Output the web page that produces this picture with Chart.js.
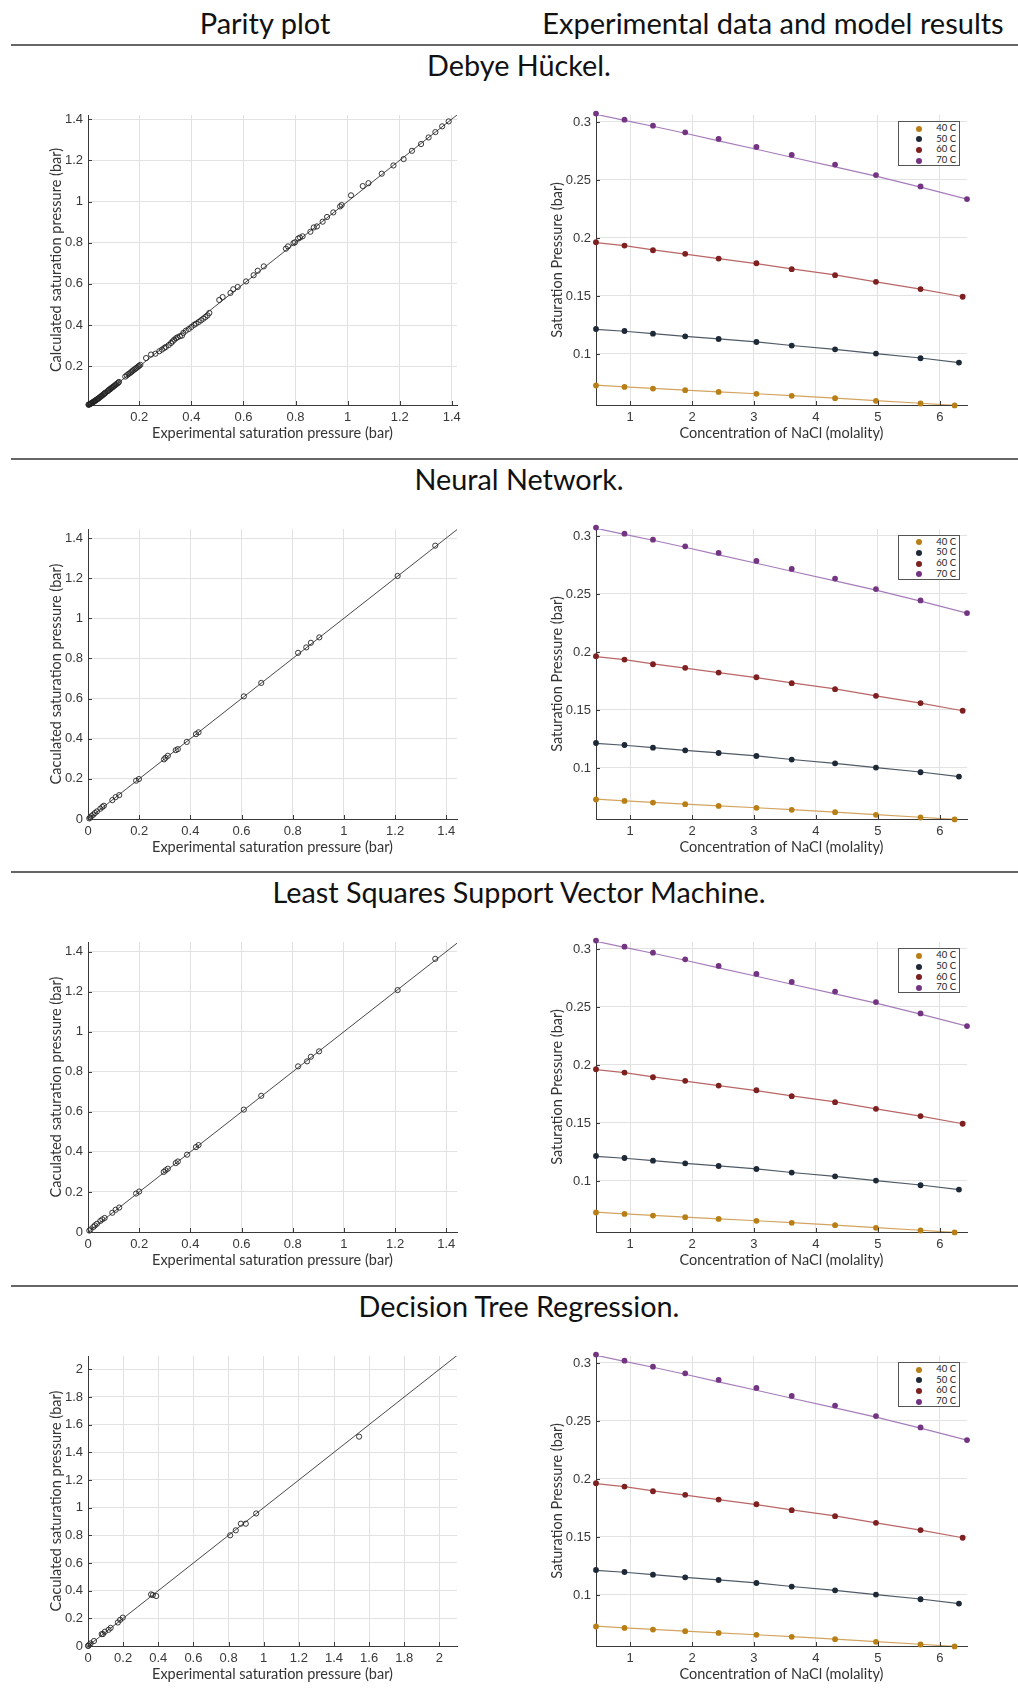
<!DOCTYPE html>
<html>
<head>
<meta charset="utf-8">
<script src="https://cdn.jsdelivr.net/npm/chart.js@4.4.1/dist/chart.umd.min.js"></script>
<style>
  body { margin: 0; background: #fff; }
  #page { position: relative; width: 1018px; height: 1691px; overflow: hidden; font-family: Lato, "Noto Sans", sans-serif; color: #111; }
  .head { position: absolute; top: 22px; font-size: 29px; transform: translate(-50%, -50%); white-space: nowrap; }
  .rule { position: absolute; left: 11px; width: 1007px; height: 2px; background: #666; }
  .section-title { position: absolute; left: 519px; font-size: 28.8px; transform: translate(-50%, -50%); white-space: nowrap; }
  canvas { position: absolute; }
  .legend { position: absolute; width: 60px; height: 43px; border: 1px solid #555; background: #fff; font-size: 9.5px; color: #222; }
  .legend div { position: relative; height: 10.7px; line-height: 10.7px; }
  .legend span.dot { position: absolute; left: 17px; top: 2.5px; width: 6px; height: 6px; border-radius: 50%; }
  .legend span.lbl { position: absolute; right: 3px; }
</style>
</head>
<body>
<div id="page"></div>
<script>
// ---- parity plot data: experimental vs calculated saturation pressure (bar)
const dhExp = [0.005, 0.006, 0.008, 0.009, 0.011, 0.013, 0.015, 0.017, 0.019, 0.021, 0.024, 0.026, 0.028, 0.031,
  0.033, 0.036, 0.039, 0.041, 0.044, 0.047, 0.050, 0.053, 0.056, 0.059, 0.062, 0.065, 0.068, 0.070,
  0.077, 0.080, 0.083, 0.086, 0.089, 0.092, 0.096, 0.099, 0.103, 0.107, 0.111, 0.115, 0.119, 0.122,
  0.146, 0.152, 0.158, 0.163, 0.168, 0.172, 0.176, 0.181, 0.186, 0.190, 0.195, 0.199, 0.204,
  0.226, 0.245, 0.262, 0.277, 0.287, 0.296, 0.302, 0.313, 0.322, 0.328, 0.334, 0.341, 0.347, 0.356, 0.364,
  0.369, 0.379, 0.390, 0.400, 0.410, 0.418, 0.428, 0.437, 0.446, 0.454, 0.462, 0.469,
  0.507, 0.520, 0.550, 0.561, 0.578, 0.610, 0.639, 0.655, 0.678, 0.763, 0.771, 0.792, 0.798, 0.810,
  0.817, 0.827, 0.857, 0.870, 0.882, 0.904, 0.921, 0.945, 0.971, 0.977, 1.013, 1.058, 1.080, 1.131,
  1.176, 1.215, 1.247, 1.282, 1.311, 1.337, 1.363, 1.388];
const dhCalc = [0.013, 0.014, 0.015, 0.016, 0.017, 0.018, 0.020, 0.021, 0.023, 0.025, 0.027, 0.029, 0.031, 0.033,
  0.035, 0.038, 0.040, 0.042, 0.045, 0.048, 0.051, 0.054, 0.057, 0.060, 0.063, 0.066, 0.069, 0.072,
  0.078, 0.081, 0.085, 0.087, 0.090, 0.094, 0.097, 0.100, 0.104, 0.108, 0.112, 0.116, 0.120, 0.124,
  0.150, 0.156, 0.162, 0.166, 0.171, 0.175, 0.180, 0.184, 0.189, 0.193, 0.198, 0.202, 0.207,
  0.240, 0.257, 0.261, 0.273, 0.281, 0.289, 0.294, 0.303, 0.313, 0.321, 0.329, 0.336, 0.341, 0.346, 0.349,
  0.362, 0.373, 0.381, 0.391, 0.401, 0.407, 0.415, 0.423, 0.431, 0.439, 0.447, 0.459,
  0.522, 0.536, 0.556, 0.574, 0.585, 0.612, 0.642, 0.664, 0.685, 0.771, 0.782, 0.798, 0.802, 0.820,
  0.825, 0.831, 0.853, 0.874, 0.879, 0.902, 0.925, 0.947, 0.976, 0.983, 1.030, 1.075, 1.089, 1.135,
  1.175, 1.206, 1.246, 1.279, 1.311, 1.337, 1.365, 1.389];

const nnExp = [0.005, 0.008, 0.014, 0.021, 0.027, 0.035, 0.048, 0.056, 0.062, 0.095, 0.108, 0.122, 0.188, 0.199,
  0.297, 0.303, 0.312, 0.343, 0.351, 0.386, 0.422, 0.432, 0.609, 0.677, 0.821, 0.853, 0.871, 0.904, 1.210, 1.357];
const nnCalc = [0.003, 0.007, 0.015, 0.022, 0.030, 0.038, 0.051, 0.060, 0.066, 0.094, 0.109, 0.119, 0.191, 0.199,
  0.297, 0.305, 0.315, 0.343, 0.348, 0.384, 0.423, 0.432, 0.611, 0.678, 0.828, 0.855, 0.878, 0.905, 1.211, 1.362];

const lsExp = [0.005, 0.010, 0.021, 0.027, 0.035, 0.048, 0.056, 0.065, 0.095, 0.108, 0.122, 0.188, 0.200,
  0.296, 0.303, 0.312, 0.343, 0.351, 0.387, 0.422, 0.432, 0.609, 0.677, 0.821, 0.856, 0.871, 0.903, 1.210, 1.357];
const lsCalc = [0.007, 0.013, 0.025, 0.033, 0.041, 0.055, 0.063, 0.070, 0.096, 0.111, 0.122, 0.192, 0.202,
  0.300, 0.308, 0.316, 0.344, 0.352, 0.386, 0.424, 0.434, 0.611, 0.680, 0.827, 0.852, 0.875, 0.902, 1.208, 1.364];

const dtExp = [0.001, 0.002, 0.008, 0.015, 0.034, 0.078, 0.085, 0.096, 0.117, 0.129, 0.170, 0.183, 0.198,
  0.359, 0.369, 0.388, 0.809, 0.841, 0.870, 0.898, 0.957, 1.543];
const dtCalc = [0.001, 0.002, 0.010, 0.019, 0.036, 0.086, 0.086, 0.103, 0.117, 0.131, 0.170, 0.189, 0.205,
  0.373, 0.368, 0.361, 0.800, 0.836, 0.884, 0.884, 0.958, 1.513];

// y = x reference line ends
const diagonal = [0, 2.2];

// ---- NaCl brine data: molality vs saturation pressure (bar)
const temps = ['40 C', '50 C', '60 C', '70 C'];
const molality = [0.45, 0.91, 1.37, 1.89, 2.43, 3.04, 3.61, 4.31, 4.97, 5.69];
const saturationMolality = [6.24, 6.31, 6.37, 6.44];
const p40 = [0.0728, 0.0716, 0.0702, 0.0688, 0.0673, 0.0656, 0.0639, 0.0619, 0.0596, 0.0573, 0.0556];
const p50 = [0.1215, 0.1198, 0.1175, 0.1152, 0.1129, 0.1103, 0.1072, 0.1040, 0.1003, 0.0963, 0.0926];
const p60 = [0.1963, 0.1934, 0.1894, 0.1863, 0.1822, 0.1782, 0.1731, 0.1679, 0.1622, 0.1559, 0.1493];
const p70 = [0.3072, 0.3020, 0.2968, 0.2911, 0.2854, 0.2785, 0.2716, 0.2633, 0.2542, 0.2444, 0.2335];
const m40 = [0.0731, 0.0717, 0.0703, 0.0689, 0.0674, 0.0657, 0.0640, 0.0620, 0.0598, 0.0575, 0.0556];
const m50 = [0.1212, 0.1196, 0.1175, 0.1152, 0.1130, 0.1104, 0.1073, 0.1040, 0.1003, 0.0965, 0.0926];
const m60 = [0.1960, 0.1934, 0.1897, 0.1860, 0.1822, 0.1779, 0.1734, 0.1682, 0.1622, 0.1559, 0.1493];
const m70 = [0.3066, 0.3014, 0.2963, 0.2903, 0.2837, 0.2765, 0.2696, 0.2613, 0.2533, 0.2438, 0.2335];

// ---- tick labels
const parityTicks = [0, 0.2, 0.4, 0.6, 0.8, 1, 1.2, 1.4];
const dtTicks = [0, 0.2, 0.4, 0.6, 0.8, 1, 1.2, 1.4, 1.6, 1.8, 2];
const molalityTicks = [1, 2, 3, 4, 5, 6];
const pressureTicks = [0.1, 0.15, 0.2, 0.25, 0.3];

const pointColors = ['#b87f16', '#1e2937', '#7e2020', '#733582'];
const lineColors = ['#d3a45f', '#505a66', '#b96666', '#a67cba'];

const sections = [
  { title: 'Debye Hückel.', exp: dhExp, calc: dhCalc, yLabel: 'Calculated saturation pressure (bar)',
    x: [0.003, 1.42], y: [0.012, 1.42], ticks: parityTicks },
  { title: 'Neural Network.', exp: nnExp, calc: nnCalc, yLabel: 'Caculated saturation pressure (bar)',
    x: [0, 1.442], y: [0, 1.445], ticks: parityTicks },
  { title: 'Least Squares Support Vector Machine.', exp: lsExp, calc: lsCalc, yLabel: 'Caculated saturation pressure (bar)',
    x: [0, 1.442], y: [0, 1.448], ticks: parityTicks },
  { title: 'Decision Tree Regression.', exp: dtExp, calc: dtCalc, yLabel: 'Caculated saturation pressure (bar)',
    x: [0, 2.1], y: [0, 2.096], ticks: dtTicks }
];
const sectionTop = [0, 413.7, 827.4, 1241];

const page = document.getElementById('page');
function addDiv(cls, text, style) {
  const d = document.createElement('div');
  d.className = cls;
  if (text) d.textContent = text;
  Object.assign(d.style, style);
  page.appendChild(d);
  return d;
}

addDiv('head', 'Parity plot', { left: '265px' });
addDiv('head', 'Experimental data and model results', { left: '773px' });

// small inward tick marks on both axes
const innerTicks = {
  id: 'innerTicks',
  afterDraw(chart) {
    const { ctx, chartArea, scales } = chart;
    ctx.save();
    ctx.strokeStyle = '#3a3a3a';
    ctx.lineWidth = 1;
    ctx.beginPath();
    scales.x.ticks.forEach(t => {
      const px = Math.round(scales.x.getPixelForValue(t.value)) + 0.5;
      ctx.moveTo(px, chartArea.bottom);
      ctx.lineTo(px, chartArea.bottom - 4);
    });
    scales.y.ticks.forEach(t => {
      const py = Math.round(scales.y.getPixelForValue(t.value)) + 0.5;
      ctx.moveTo(chartArea.left, py);
      ctx.lineTo(chartArea.left + 4, py);
    });
    ctx.stroke();
    ctx.restore();
  }
};

function axis(range, tickValues, title, horizontal, size, titlePad) {
  const [min, max] = range;
  return {
    type: 'linear', min, max,
    afterBuildTicks: s => { s.ticks = tickValues.filter(v => v >= min && v <= max).map(v => ({ value: v })); },
    afterFit: s => { if (horizontal) s.height = size; else s.width = size; },
    grid: { color: '#e2e2e2', drawTicks: false },
    border: { color: '#3a3a3a', width: 1 },
    ticks: {
      autoSkip: false, maxRotation: 0, padding: horizontal ? 5 : 5, color: '#383838',
      font: { family: "'Liberation Sans', Arial, sans-serif", size: 13 },
      callback: v => String(+v.toFixed(2))
    },
    title: {
      display: true, text: title, color: '#333',
      font: { family: "Lato, 'Noto Sans', sans-serif", size: 14.5 },
      padding: horizontal ? { top: 0, bottom: titlePad } : { top: titlePad, bottom: 0 }
    }
  };
}

function makeCanvas(left, top, w, h) {
  const c = document.createElement('canvas');
  c.width = w; c.height = h;
  c.style.left = left + 'px';
  c.style.top = top + 'px';
  c.style.width = w + 'px';
  c.style.height = h + 'px';
  page.appendChild(c);
  return c;
}

const baseOptions = {
  responsive: false, animation: false, devicePixelRatio: 1,
  plugins: { legend: { display: false }, tooltip: { enabled: false } }
};

sections.forEach((sec, i) => {
  const o = sectionTop[i];
  addDiv('rule', '', { top: (44 + o) + 'px' });
  addDiv('section-title', sec.title, { top: (65 + o) + 'px' });

  // parity plot
  new Chart(makeCanvas(20, 95 + o, 450, 350), {
    type: 'scatter',
    data: {
      datasets: [
        { data: sec.exp.map((v, k) => ({ x: v, y: sec.calc[k] })), pointRadius: 2.6, pointBorderWidth: 0.9,
          borderColor: '#222', backgroundColor: 'rgba(0,0,0,0)', order: 1, clip: false },
        { data: diagonal.map(v => ({ x: v, y: v })), showLine: true, pointRadius: 0,
          borderColor: '#333', borderWidth: 0.9, order: 2 }
      ]
    },
    options: {
      ...baseOptions,
      layout: { padding: { top: 20, right: 13, left: 0, bottom: 0 } },
      scales: {
        x: axis(sec.x, sec.ticks, 'Experimental saturation pressure (bar)', true, 40, 3),
        y: axis(sec.y, sec.ticks, sec.yLabel, false, 68, 28)
      }
    },
    plugins: [innerTicks]
  });

  // brine saturation pressure vs molality
  const measured = [p40, p50, p60, p70];
  const model = [m40, m50, m60, m70];
  const datasets = [];
  temps.forEach((t, k) => {
    const xs = molality.concat([saturationMolality[k]]);
    datasets.push({ label: t, data: xs.map((x, j) => ({ x, y: measured[k][j] })), pointRadius: 2.9,
      pointBorderWidth: 0, backgroundColor: pointColors[k], borderColor: pointColors[k], order: 1, clip: false });
    datasets.push({ data: xs.map((x, j) => ({ x, y: model[k][j] })), showLine: true, pointRadius: 0,
      borderColor: lineColors[k], borderWidth: 1.2, order: 2 });
  });
  new Chart(makeCanvas(520, 95 + o, 470, 350), {
    type: 'scatter',
    data: { datasets },
    options: {
      ...baseOptions,
      layout: { padding: { top: 20, right: 23, left: 0, bottom: 0 } },
      scales: {
        x: axis([0.45, 6.44], molalityTicks, 'Concentration of NaCl (molality)', true, 40, 3),
        y: axis([0.056, 0.306], pressureTicks, 'Saturation Pressure (bar)', false, 76, 29)
      }
    },
    plugins: [innerTicks]
  });

  // legend box
  const lg = addDiv('legend', '', { left: '898px', top: (121 + o) + 'px' });
  temps.forEach((t, k) => {
    const row = document.createElement('div');
    if (k === 0) row.style.marginTop = '1px';
    const dot = document.createElement('span');
    dot.className = 'dot';
    dot.style.background = pointColors[k];
    const lbl = document.createElement('span');
    lbl.className = 'lbl';
    lbl.textContent = t;
    row.appendChild(dot); row.appendChild(lbl);
    lg.appendChild(row);
  });
});
</script>
</body>
</html>
